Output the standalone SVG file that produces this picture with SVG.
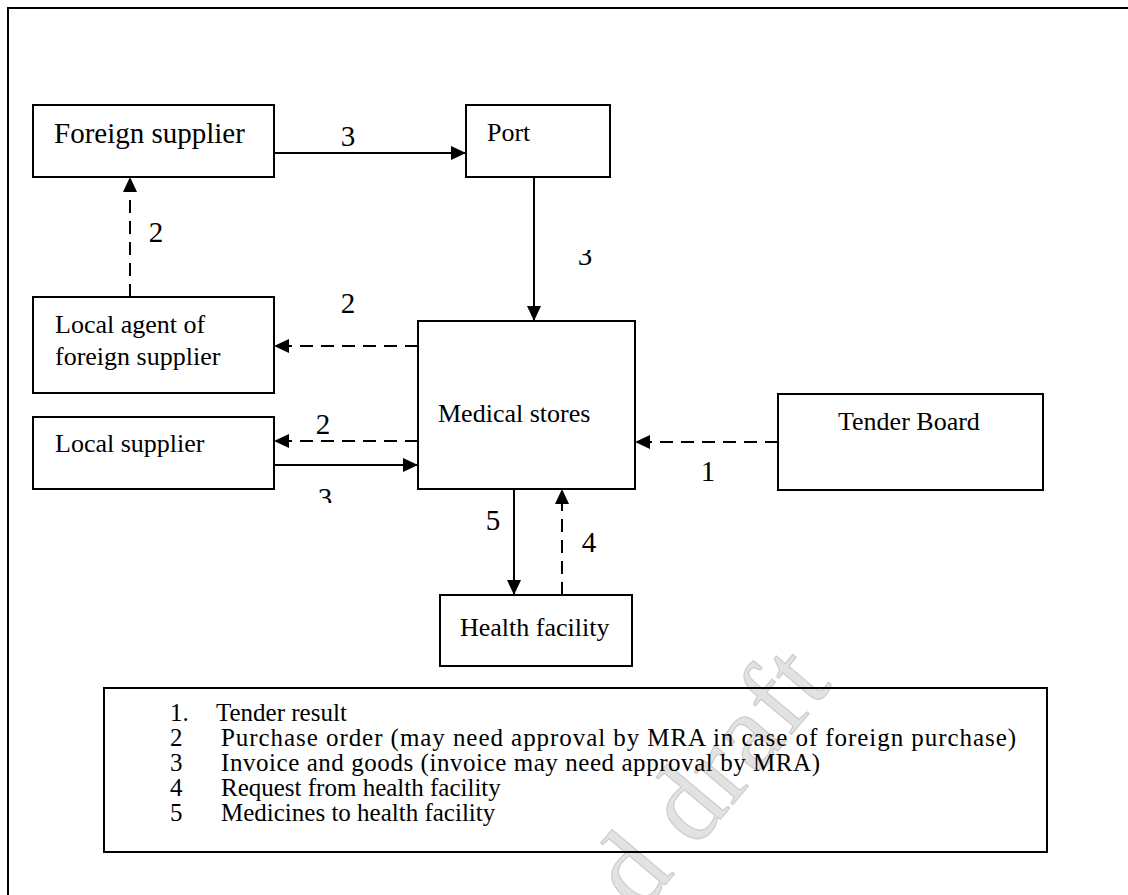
<svg xmlns="http://www.w3.org/2000/svg" width="1128" height="895" viewBox="0 0 1128 895">
  <style>
    .box { fill: #ffffff; stroke: #000000; stroke-width: 2; }
    .frame { fill: none; stroke: #000000; stroke-width: 2; }
    .txt { font-family: "Liberation Serif", "Times New Roman", serif; fill: #000000; }
    .node { font-size: 26px; }
    .num { font-size: 29px; }
    .leg { font-size: 25px; }
    .solid { stroke: #000000; stroke-width: 2; fill: none; marker-end: url(#head); }
    .dash { stroke: #000000; stroke-width: 2; fill: none; stroke-dasharray: 13 8; marker-end: url(#head); }
    .mark { font-family: "Liberation Serif", serif; font-size: 110px; fill: #e2e2e2; stroke: #cccccc; stroke-width: 1.2; }
  </style>
  <defs>
    <marker id="head" markerUnits="userSpaceOnUse" markerWidth="16" markerHeight="16" refX="15" refY="7" orient="auto" viewBox="0 0 16 14">
      <path d="M0,0 L15,7 L0,14 Z" fill="#000000"/>
    </marker>
    <clipPath id="clipTop"><rect x="560" y="250" width="60" height="40"/></clipPath>
    <clipPath id="clipBottom"><rect x="300" y="470" width="60" height="33"/></clipPath>
  </defs>

  <rect width="1128" height="895" fill="#ffffff"/>

  <!-- page frame -->
  <rect class="frame" x="8" y="8" width="1200" height="1000"/>

  <!-- watermark -->
  <text class="mark" transform="translate(640,915) rotate(-50)" textLength="300">d draft</text>

  <!-- nodes -->
  <g id="foreign-supplier">
    <rect class="box" x="33" y="105" width="241" height="72"/>
    <text class="txt" x="54" y="143" font-size="29">Foreign supplier</text>
  </g>
  <g id="port">
    <rect class="box" x="466" y="105" width="144" height="72"/>
    <text class="txt node" x="487" y="141">Port</text>
  </g>
  <g id="local-agent">
    <rect class="box" x="33" y="297" width="241" height="96"/>
    <text class="txt node" x="55" y="333" font-size="25">Local agent of</text>
    <text class="txt node" x="55" y="365" font-size="25">foreign supplier</text>
  </g>
  <g id="local-supplier">
    <rect class="box" x="33" y="417" width="241" height="72"/>
    <text class="txt node" x="55" y="452" font-size="25">Local supplier</text>
  </g>
  <g id="medical-stores">
    <rect class="box" x="418" y="321" width="217" height="168"/>
    <text class="txt node" x="438" y="422">Medical stores</text>
  </g>
  <g id="tender-board">
    <rect class="box" x="778" y="394" width="265" height="96"/>
    <text class="txt node" x="838" y="430">Tender Board</text>
  </g>
  <g id="health-facility">
    <rect class="box" x="440" y="595" width="192" height="71"/>
    <text class="txt node" x="460" y="636">Health facility</text>
  </g>

  <!-- connectors -->
  <g id="connectors">
    <line class="solid" x1="274" y1="153" x2="466" y2="153"/>
    <line class="solid" x1="534" y1="177" x2="534" y2="321"/>
    <line class="dash" x1="130" y1="297" x2="130" y2="177"/>
    <line class="dash" x1="418" y1="346" x2="274" y2="346"/>
    <line class="dash" x1="418" y1="441" x2="274" y2="441"/>
    <line class="solid" x1="274" y1="465" x2="418" y2="465"/>
    <line class="dash" x1="778" y1="442" x2="635" y2="442"/>
    <line class="solid" x1="514" y1="489" x2="514" y2="595"/>
    <line class="dash" x1="562" y1="595" x2="562" y2="489"/>

    <text class="txt num" x="348" y="146" text-anchor="middle">3</text>
    <text class="txt num" x="156" y="242" text-anchor="middle">2</text>
    <text class="txt num" x="348" y="313" text-anchor="middle">2</text>
    <text class="txt num" x="323" y="434" text-anchor="middle">2</text>
    <text class="txt num" x="585" y="265" text-anchor="middle" clip-path="url(#clipTop)">3</text>
    <text class="txt num" x="325" y="508" text-anchor="middle" clip-path="url(#clipBottom)">3</text>
    <text class="txt num" x="708" y="481" text-anchor="middle">1</text>
    <text class="txt num" x="493" y="530" text-anchor="middle">5</text>
    <text class="txt num" x="589" y="552" text-anchor="middle">4</text>
  </g>

  <!-- key -->
  <g id="key">
    <rect class="frame" x="104" y="688" width="943" height="164"/>
    <text class="txt leg" x="170" y="721">1.</text>
    <text class="txt leg" x="216" y="721">Tender result</text>
    <text class="txt leg" x="170" y="746">2</text>
    <text class="txt leg" x="221" y="746" textLength="795">Purchase order (may need approval by MRA in case of  foreign purchase)</text>
    <text class="txt leg" x="170" y="771">3</text>
    <text class="txt leg" x="221" y="771" textLength="599">Invoice and goods (invoice may need approval by MRA)</text>
    <text class="txt leg" x="170" y="796">4</text>
    <text class="txt leg" x="221" y="796">Request from health facility</text>
    <text class="txt leg" x="170" y="821">5</text>
    <text class="txt leg" x="221" y="821">Medicines to health facility</text>
  </g>
</svg>
